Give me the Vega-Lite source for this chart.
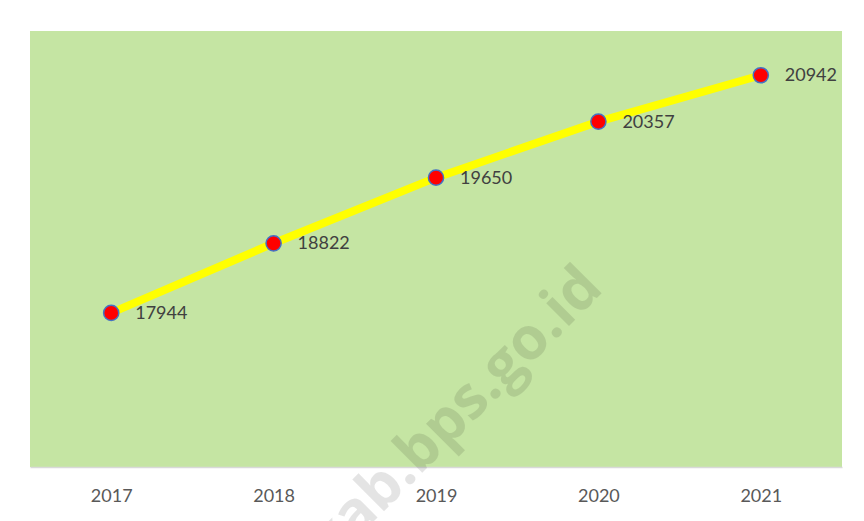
{
  "$schema": "https://vega.github.io/schema/vega-lite/v6.json",
  "width": 812,
  "height": 436,
  "autosize": {"type": "none"},
  "padding": {"left": 30, "top": 31, "right": 22, "bottom": 54},
  "background": "#ffffff",
  "config": {
    "view": {"fill": "#C5E5A3", "stroke": null},
    "font": "Lato"
  },
  "datasets": {
    "main": [
      {"year": 2017, "value": 17944},
      {"year": 2018, "value": 18822},
      {"year": 2019, "value": 19650},
      {"year": 2020, "value": 20357},
      {"year": 2021, "value": 20942}
    ],
    "wm": [
      {"year": 2020.04, "value": 18230, "label": "kab.bps.go.id"}
    ]
  },
  "encoding": {
    "x": {
      "field": "year", "type": "quantitative",
      "scale": {"domain": [2016.5, 2021.5], "nice": false, "zero": false},
      "axis": {
        "values": [2017, 2018, 2019, 2020, 2021],
        "format": "d",
        "title": null,
        "grid": false,
        "ticks": false,
        "domainColor": "#D9D9D9",
        "domainWidth": 1.5,
        "labelColor": "#595959",
        "labelFontSize": 18,
        "labelFont": "Lato",
        "labelPadding": 20
      }
    },
    "y": {
      "field": "value", "type": "quantitative",
      "scale": {"domain": [16000, 21500], "nice": false, "zero": false},
      "axis": null
    }
  },
  "layer": [
    {
      "data": {"name": "wm"},
      "mark": {"type": "text", "align": "right", "baseline": "alphabetic", "angle": -45, "fontSize": 59, "fontWeight": "bold", "font": "Open Sans", "color": "#000000", "opacity": 0.1},
      "encoding": {
        "text": {"field": "label", "type": "nominal"}
      }
    },
    {
      "data": {"name": "main"},
      "mark": {"type": "line", "color": "#FFFF00", "strokeWidth": 8, "strokeCap": "butt"},
      "encoding": {}
    },
    {
      "data": {"name": "main"},
      "mark": {"type": "point", "filled": true, "shape": "circle", "size": 230, "fill": "#FF0000", "stroke": "#4472C4", "strokeWidth": 1.5, "opacity": 1},
      "encoding": {}
    },
    {
      "data": {"name": "main"},
      "mark": {"type": "text", "align": "left", "baseline": "middle", "dx": 24, "dy": 1, "fontSize": 18, "color": "#404040", "font": "Lato"},
      "encoding": {
        "text": {"field": "value", "type": "quantitative", "format": "d"}
      }
    }
  ]
}
